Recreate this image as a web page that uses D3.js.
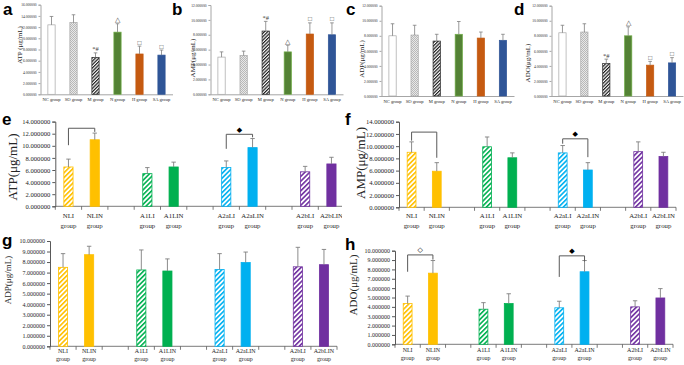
<!DOCTYPE html>
<html>
<head>
<meta charset="utf-8">
<script src="https://cdn.jsdelivr.net/npm/d3@7"></script>
<style>
  body { margin: 0; background: #fff; }
  svg { display: block; }
</style>
</head>
<body>
<svg id="fig" width="684" height="365"></svg>
<script>
// ---- data ----
const topGroups = ["NC group", "SO group", "M group", "N group", "H group", "SA group"];
const topMarks  = ["", "", "*#", "△", "□", "□"];

const atpTop    = [12.4, 12.8, 6.6, 11.1, 7.2, 7.0];
const atpTopErr = [1.5, 1.4, 0.8, 1.5, 1.4, 0.9];
const ampTop    = [5.0, 5.2, 8.5, 5.7, 8.1, 8.0];
const ampTopErr = [0.7, 0.6, 1.3, 0.9, 1.5, 1.6];
const adpTop    = [8.0, 8.1, 7.3, 8.2, 7.7, 7.4];
const adpTopErr = [1.6, 1.3, 0.9, 1.7, 0.8, 0.8];
const adoTop    = [8.4, 8.5, 4.3, 8.0, 4.1, 4.4];
const adoTopErr = [1.0, 1.1, 0.6, 1.2, 0.5, 0.7];

const bottomGroups = ["NLI", "NLIN", "A1LI", "A1LIN", "A2aLI", "A2aLIN", "A2bLI", "A2bLIN"];

const atpBottom    = [6.5, 11.0, 5.4, 6.5, 6.4, 9.7, 5.7, 7.0];
const atpBottomErr = [1.3, 1.1, 1.0, 0.8, 1.1, 1.5, 0.9, 1.1];
const ampBottom    = [9.0, 5.9, 9.9, 8.1, 8.9, 6.1, 9.1, 8.3];
const ampBottomErr = [1.7, 1.4, 1.6, 0.8, 1.2, 1.2, 1.6, 0.7];
const adpBottom    = [7.5, 8.7, 7.25, 7.15, 7.3, 7.95, 7.55, 7.75];
const adpBottomErr = [1.3, 0.8, 1.9, 1.15, 1.5, 1.0, 1.85, 1.45];
const adoBottom    = [4.35, 7.6, 3.75, 4.35, 3.9, 7.75, 4.0, 4.95];
const adoBottomErr = [0.8, 1.35, 0.7, 1.05, 0.7, 1.2, 0.65, 1.0];

// significance brackets: top = bar level, left/right = where the legs stop
const atpBrackets = [
  { from: "NLI",   to: "NLIN",   top: 12.9, left: 10.1, right: 12.3, mark: "" },
  { from: "A2aLI", to: "A2aLIN", top: 11.9, left: 9.5,  right: 11.4, mark: "◆" }
];
const ampBrackets = [
  { from: "NLI",   to: "NLIN",   top: 12.3, left: 10.9, right: 8.1, mark: "" },
  { from: "A2aLI", to: "A2aLIN", top: 11.2, left: 10.4, right: 8.2, mark: "◆" }
];
const adoBrackets = [
  { from: "NLI",   to: "NLIN",   top: 9.55, left: 7.75, right: 9.05, mark: "◇" },
  { from: "A2aLI", to: "A2aLIN", top: 9.45, left: 7.2,  right: 8.85, mark: "◆" }
];

// ---- styles ----
const serif = "'Liberation Serif', 'Times New Roman', serif";
const sans  = "'Liberation Sans', Arial, sans-serif";
const errColor = "#7f7f7f";

const topFill   = ["#ffffff", "url(#dots)", "url(#hatchM)", "#548235", "#c55a11", "#2f5597"];
const topStroke = ["#a6a6a6", "#a6a6a6", "#262626", "#70ad47", "#c55a11", "#2f5597"];
const pairColors = ["#ffc000", "#00b050", "#00b0f0", "#7030a0"];

const svg = d3.select("#fig");
const defs = svg.append("defs");

function hatch(id, color, period, width) {
  const p = defs.append("pattern")
    .attr("id", id)
    .attr("patternUnits", "userSpaceOnUse")
    .attr("width", period)
    .attr("height", period)
    .attr("patternTransform", "rotate(45)");
  p.append("rect").attr("width", period).attr("height", period).attr("fill", "#fff");
  p.append("rect").attr("width", width).attr("height", period).attr("fill", color);
}

hatch("hatchM", "#1a1a1a", 2.4, 1.2);
pairColors.forEach((c, i) => hatch("hatch" + i, c, 3.4, 1.6));

const dots = defs.append("pattern")
  .attr("id", "dots")
  .attr("patternUnits", "userSpaceOnUse")
  .attr("width", 2).attr("height", 2);
dots.append("rect").attr("width", 2).attr("height", 2).attr("fill", "#e8e8e8");
dots.append("rect").attr("width", 1).attr("height", 1).attr("fill", "#b8b8b8");
dots.append("rect").attr("x", 1).attr("y", 1).attr("width", 1).attr("height", 1).attr("fill", "#b8b8b8");

function styleAxis(sel, color, size) {
  sel.select(".domain").attr("stroke", color);
  sel.selectAll(".tick line").attr("stroke", color);
  sel.selectAll(".tick text")
    .attr("fill", "#262626")
    .style("font-family", serif)
    .style("font-size", size + "px");
}

// ---- top row (a-d) ----
function topPanel(o) {
  const g = svg.append("g");

  const x = d3.scaleBand().domain(topGroups).range([o.left, o.right]);
  const y = d3.scaleLinear().domain([0, o.max]).range([o.bottom, o.top]);
  const bw = x.bandwidth() * 0.33;

  const yAxis = g.append("g")
    .attr("transform", `translate(${o.left},0)`)
    .call(d3.axisLeft(y)
      .tickValues(d3.range(0, o.max + 0.01, 2))
      .tickSize(2)
      .tickPadding(2)
      .tickFormat(d3.format(".6f")));
  styleAxis(yAxis, "#a6a6a6", 3.6);

  const xAxis = g.append("g")
    .attr("transform", `translate(0,${o.bottom})`)
    .call(d3.axisBottom(x).tickSize(0).tickSizeOuter(0).tickPadding(3.5));
  styleAxis(xAxis, "#a6a6a6", 4.6);

  g.selectAll(".bar")
    .data(o.values)
    .join("rect")
    .attr("class", "bar")
    .attr("x", (d, i) => x(topGroups[i]) + (x.bandwidth() - bw) / 2)
    .attr("y", d => y(d))
    .attr("width", bw)
    .attr("height", d => y(0) - y(d))
    .attr("fill", (d, i) => topFill[i])
    .attr("stroke", (d, i) => topStroke[i])
    .attr("stroke-width", 0.7);

  const cx = i => x(topGroups[i]) + x.bandwidth() / 2;

  g.selectAll(".err")
    .data(o.values)
    .join("path")
    .attr("class", "err")
    .attr("d", (d, i) => {
      const yt = y(d + o.errors[i]);
      return `M${cx(i)},${y(d)}V${yt}M${cx(i) - 1.8},${yt}H${cx(i) + 1.8}`;
    })
    .attr("stroke", errColor)
    .attr("stroke-width", 0.8)
    .attr("fill", "none");

  if (o.marks) {
    g.selectAll(".mark")
      .data(o.values)
      .join("text")
      .attr("class", "mark")
      .attr("x", (d, i) => cx(i))
      .attr("y", (d, i) => y(d + o.errors[i]) - 1.5)
      .attr("text-anchor", "middle")
      .attr("fill", "#404040")
      .style("font-family", serif)
      .style("font-size", "6.5px")
      .text((d, i) => o.marks[i]);
  }

  g.append("text")
    .attr("transform", `translate(${o.titleX},${o.titleY}) rotate(-90)`)
    .attr("text-anchor", "middle")
    .attr("fill", "#262626")
    .style("font-family", serif)
    .style("font-size", "7px")
    .text(o.title);

  g.append("text")
    .attr("x", o.letterX)
    .attr("y", 15)
    .attr("fill", "#000")
    .style("font-family", sans)
    .style("font-weight", "bold")
    .style("font-size", "17px")
    .text(o.letter);
}

topPanel({ letter: "a", letterX: 3,   left: 40.5,  right: 172.5, top: 4.7, bottom: 94.3, max: 16,
  values: atpTop, errors: atpTopErr, marks: topMarks, title: "ATP (μg/mL)", titleX: 22, titleY: 45 });
topPanel({ letter: "b", letterX: 172, left: 210.5, right: 343,   top: 5,   bottom: 94.3, max: 12,
  values: ampTop, errors: ampTopErr, marks: topMarks, title: "AMP(μg/mL)", titleX: 195, titleY: 58 });
topPanel({ letter: "c", letterX: 346, left: 381.5, right: 514,   top: 5.7, bottom: 96,   max: 12,
  values: adpTop, errors: adpTopErr, marks: null, title: "ADP(μg/mL)", titleX: 364, titleY: 59 });
topPanel({ letter: "d", letterX: 514, left: 551.5, right: 683,   top: 5.7, bottom: 96,   max: 12,
  values: adoTop, errors: adoTopErr, marks: topMarks, title: "ADO(μg/mL)", titleX: 530, titleY: 63 });

// ---- bottom rows (e-h) ----
const slots = [];
bottomGroups.forEach((name, i) => {
  slots.push(name);
  if (i % 2 === 1 && i < bottomGroups.length - 1) slots.push("gap" + i);
});

function bottomPanel(o) {
  const clipId = "clip" + o.letter;
  defs.append("clipPath").attr("id", clipId)
    .append("rect")
    .attr("x", o.clip[0]).attr("y", o.clip[1])
    .attr("width", o.clip[2]).attr("height", o.clip[3]);

  const g = svg.append("g").attr("clip-path", `url(#${clipId})`);

  const x = d3.scaleBand().domain(slots).range([o.left, o.right]);
  const y = d3.scaleLinear().domain([0, o.max]).range([o.bottom, o.top]);
  const bw = x.bandwidth() * 0.35;
  const cx = name => x(name) + x.bandwidth() / 2;

  const yAxis = g.append("g")
    .attr("transform", `translate(${o.left},0)`)
    .call(d3.axisLeft(y)
      .tickValues(d3.range(0, o.max + 0.01, o.step))
      .tickSize(3)
      .tickPadding(2)
      .tickFormat(d3.format(".6f")));
  styleAxis(yAxis, "#595959", o.tickFont);

  // category axis with boundary ticks
  g.append("line")
    .attr("x1", o.left).attr("x2", o.right)
    .attr("y1", o.bottom).attr("y2", o.bottom)
    .attr("stroke", "#595959").attr("stroke-width", 0.8);

  g.selectAll(".bound")
    .data(slots.map(s => x(s)).concat([x.range()[1]]))
    .join("line")
    .attr("class", "bound")
    .attr("x1", d => d).attr("x2", d => d)
    .attr("y1", o.bottom).attr("y2", o.bottom + 3.5)
    .attr("stroke", "#595959").attr("stroke-width", 0.8);

  const lab = g.selectAll(".cat")
    .data(bottomGroups)
    .join("text")
    .attr("class", "cat")
    .attr("text-anchor", "middle")
    .attr("fill", "#262626")
    .style("font-family", serif)
    .style("font-size", o.catFont + "px");
  lab.append("tspan")
    .attr("x", d => cx(d))
    .attr("y", o.bottom + o.catDy[0])
    .text(d => d);
  lab.append("tspan")
    .attr("x", d => cx(d))
    .attr("y", o.bottom + o.catDy[1])
    .text("group");

  g.selectAll(".bar")
    .data(o.values)
    .join("rect")
    .attr("class", "bar")
    .attr("x", (d, i) => x(bottomGroups[i]) + (x.bandwidth() - bw) / 2)
    .attr("y", d => y(d))
    .attr("width", bw)
    .attr("height", d => y(0) - y(d))
    .attr("fill", (d, i) => i % 2 === 0 ? `url(#hatch${i >> 1})` : pairColors[i >> 1])
    .attr("stroke", (d, i) => pairColors[i >> 1])
    .attr("stroke-width", 0.8);

  g.selectAll(".err")
    .data(o.values)
    .join("path")
    .attr("class", "err")
    .attr("d", (d, i) => {
      const c = cx(bottomGroups[i]);
      const yt = y(d + o.errors[i]);
      return `M${c},${y(d)}V${yt}M${c - 2.2},${yt}H${c + 2.2}`;
    })
    .attr("stroke", errColor)
    .attr("stroke-width", 0.9)
    .attr("fill", "none");

  const br = g.selectAll(".bracket")
    .data(o.brackets || [])
    .join("g")
    .attr("class", "bracket");
  br.append("path")
    .attr("d", d => `M${cx(d.from)},${y(d.left)}V${y(d.top)}H${cx(d.to)}V${y(d.right)}`)
    .attr("stroke", "#595959")
    .attr("stroke-width", 1)
    .attr("fill", "none");
  br.append("text")
    .attr("x", d => (cx(d.from) + cx(d.to)) / 2)
    .attr("y", d => y(d.top) - 2.5)
    .attr("text-anchor", "middle")
    .attr("fill", "#000")
    .style("font-family", "'DejaVu Sans', sans-serif")
    .style("font-size", "7px")
    .text(d => d.mark);

  g.append("text")
    .attr("transform", `translate(${o.titleX},${o.titleY}) rotate(-90)`)
    .attr("text-anchor", "middle")
    .attr("fill", "#262626")
    .style("font-family", serif)
    .style("font-size", o.titleFont + "px")
    .text(o.title);

  g.append("text")
    .attr("x", o.letterX)
    .attr("y", o.letterY)
    .attr("fill", "#000")
    .style("font-family", sans)
    .style("font-weight", "bold")
    .style("font-size", "17px")
    .text(o.letter);
}

bottomPanel({ letter: "e", letterX: 2, letterY: 125, clip: [0, 108, 342, 130],
  left: 55.3, right: 344.6, top: 121.6, bottom: 206.3, max: 14, step: 2,
  values: atpBottom, errors: atpBottomErr, brackets: atpBrackets,
  tickFont: 6.6, catFont: 6.8, catDy: [11.2, 21.2],
  title: "ATP(μg/mL)", titleFont: 13, titleX: 17, titleY: 167 });
bottomPanel({ letter: "f", letterX: 345, letterY: 125, clip: [342, 108, 342, 130],
  left: 399, right: 676, top: 121.7, bottom: 207.3, max: 14, step: 2,
  values: ampBottom, errors: ampBottomErr, brackets: ampBrackets,
  tickFont: 6.6, catFont: 6.8, catDy: [11, 20.5],
  title: "AMP(μg/mL)", titleFont: 13, titleX: 365, titleY: 163 });
bottomPanel({ letter: "g", letterX: 2, letterY: 246, clip: [0, 232, 342, 133],
  left: 50, right: 337, top: 241, bottom: 346.3, max: 10, step: 1,
  values: adpBottom, errors: adpBottomErr, brackets: null,
  tickFont: 6, catFont: 6, catDy: [6.3, 14.3],
  title: "ADP(μg/mL)", titleFont: 9, titleX: 11, titleY: 280 });
bottomPanel({ letter: "h", letterX: 345, letterY: 250, clip: [342, 232, 342, 133],
  left: 395, right: 673, top: 250.7, bottom: 344.3, max: 10, step: 1,
  values: adoBottom, errors: adoBottomErr, brackets: adoBrackets,
  tickFont: 6, catFont: 6, catDy: [7.8, 16],
  title: "ADO(μg/mL)", titleFont: 11, titleX: 357, titleY: 285 });
</script>
</body>
</html>
